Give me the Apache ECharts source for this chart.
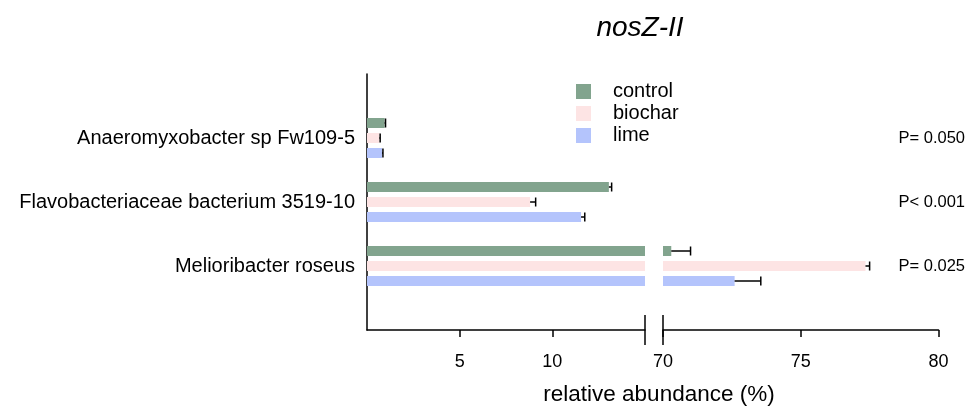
<!DOCTYPE html>
<html>
<head>
<meta charset="utf-8">
<script src="https://cdn.jsdelivr.net/npm/echarts@6/dist/echarts.min.js"></script>
<style>html,body{margin:0;padding:0;background:#fff}#main{width:968px;height:410px}</style>
</head>
<body>
<div id="main"></div>
<script>
// categories listed top to bottom as in the figure
var categories = ['Anaeromyxobacter sp Fw109-5', 'Flavobacteriaceae bacterium 3519-10', 'Melioribacter roseus'];
var pLabels = ['P= 0.050', 'P< 0.001', 'P= 0.025'];
var seriesNames = ['control', 'biochar', 'lime'];
var controlMean = [0.95, 13.05, 70.3];
var controlErr = [0.05, 0.15, 0.7];
var biocharMean = [0.67, 8.8, 77.35];
var biocharErr = [0.04, 0.3, 0.15];
var limeMean = [0.81, 11.55, 72.6];
var limeErr = [0.05, 0.2, 0.95];
var leftTicks = [5, 10];
var rightTicks = [70, 75, 80];

var FONT = 'Arial, "Liberation Sans", sans-serif';
var colors = ['#82a48e', '#fde4e4', '#b4c4fc'];
var means = [controlMean, biocharMean, limeMean];
var errs = [controlErr, biocharErr, limeErr];
var offsets = [-15, 0, 15];
var ranges = [[0, 15], [70, 80]];

// bottom-to-top with an empty slot at each end
var yData = [''].concat(categories.slice().reverse(), ['']);
var yP = [''].concat(pLabels.slice().reverse(), ['']);
function toAxis(arr) { return [null].concat(arr.slice().reverse(), [null]); }

var chart = echarts.init(document.getElementById('main'));

var axisLine = {show: true, lineStyle: {color: '#000', width: 1.5}};

function errorItem(gi, si) {
    return function (params, api) {
        var m = api.value(0), e = api.value(2);
        if (m < ranges[gi][0] || m > ranges[gi][1]) return;
        var p0 = api.coord([m, api.value(1)]);
        var p1 = api.coord([m + e, api.value(1)]);
        var y = p0[1] + offsets[si];
        return {
            type: 'group',
            children: [
                {type: 'line', shape: {x1: p0[0], y1: y, x2: p1[0], y2: y}, style: {stroke: '#000', lineWidth: 1.5}},
                {type: 'line', shape: {x1: p1[0], y1: y - 4.5, x2: p1[0], y2: y + 4.5}, style: {stroke: '#000', lineWidth: 1.5}}
            ]
        };
    };
}

var series = [];
[0, 1].forEach(function (gi) {
    seriesNames.forEach(function (name, si) {
        series.push({
            name: name,
            type: 'bar',
            xAxisIndex: gi,
            yAxisIndex: gi,
            data: toAxis(means[si]),
            barWidth: 10,
            barGap: '50%',
            itemStyle: {color: colors[si]},
            silent: true
        });
    });
});
[0, 1].forEach(function (gi) {
    seriesNames.forEach(function (name, si) {
        var d = [];
        var m = means[si].slice().reverse();
        var e = errs[si].slice().reverse();
        m.forEach(function (v, i) {
            d.push([v, i + 1, e[i]]);
        });
        series.push({
            name: 'err-' + name,
            type: 'custom',
            xAxisIndex: gi,
            yAxisIndex: gi,
            renderItem: errorItem(gi, si),
            encode: {x: 0, y: 1},
            data: d,
            z: 5,
            silent: true
        });
    });
});

var option = {
    animation: false,
    backgroundColor: '#fff',
    textStyle: {fontFamily: FONT},
    title: [
        {text: 'nosZ-II', left: 640, top: 14, textAlign: 'center', padding: 0,
         textStyle: {fontSize: 28, fontStyle: 'italic', fontWeight: 'normal', color: '#000', fontFamily: FONT}},
        {text: 'relative abundance (%)', left: 659, top: 383, textAlign: 'center', padding: 0,
         textStyle: {fontSize: 22.5, fontWeight: 'normal', color: '#000', fontFamily: FONT}}
    ],
    legend: {
        data: seriesNames,
        orient: 'vertical',
        left: 576,
        top: 81.5,
        padding: 0,
        itemWidth: 15,
        itemHeight: 15,
        itemGap: 2,
        icon: 'rect',
        selectedMode: false,
        textStyle: {fontSize: 20, color: '#000', fontFamily: FONT, padding: [0, 0, 0, 17]}
    },
    grid: [
        {left: 367, top: 74, width: 278, height: 256},
        {left: 663, top: 74, width: 276, height: 256}
    ],
    xAxis: [
        {type: 'value', gridIndex: 0, min: ranges[0][0], max: ranges[0][1], interval: 5,
         axisLine: axisLine, splitLine: {show: false},
         axisTick: {show: true, customValues: leftTicks, length: 7, lineStyle: {color: '#000', width: 1.5}},
         axisLabel: {customValues: leftTicks, margin: 23, fontSize: 18, color: '#000', fontFamily: FONT}},
        {type: 'value', gridIndex: 1, min: ranges[1][0], max: ranges[1][1], interval: 5,
         axisLine: axisLine, splitLine: {show: false},
         axisTick: {show: true, customValues: rightTicks, length: 7, lineStyle: {color: '#000', width: 1.5}},
         axisLabel: {customValues: rightTicks, margin: 23, fontSize: 18, color: '#000', fontFamily: FONT}}
    ],
    yAxis: [
        {type: 'category', gridIndex: 0, data: yData, boundaryGap: false,
         axisLine: axisLine, axisTick: {show: false}, splitLine: {show: false},
         axisLabel: {margin: 12, fontSize: 20, color: '#000', fontFamily: FONT, interval: 0}},
        {type: 'category', gridIndex: 1, data: yP, boundaryGap: false, position: 'right',
         axisLine: {show: false}, axisTick: {show: false}, splitLine: {show: false},
         axisLabel: {margin: -40, fontSize: 16.5, color: '#000', fontFamily: FONT, interval: 0, padding: [0, 0, 4, 0]}}
    ],
    series: series
};
chart.setOption(option);

// axis break marks at the end of the left axis and the start of the right one
var yBase = chart.convertToPixel({yAxisIndex: 0}, 0);
var xa = chart.convertToPixel({xAxisIndex: 0}, ranges[0][1]);
var xb = chart.convertToPixel({xAxisIndex: 1}, ranges[1][0]);
chart.setOption({
    graphic: [xa, xb].map(function (x) {
        return {type: 'line', shape: {x1: x, y1: yBase - 15, x2: x, y2: yBase + 15},
                style: {stroke: '#000', lineWidth: 1.5}, z: 10};
    })
});
</script>
</body>
</html>
